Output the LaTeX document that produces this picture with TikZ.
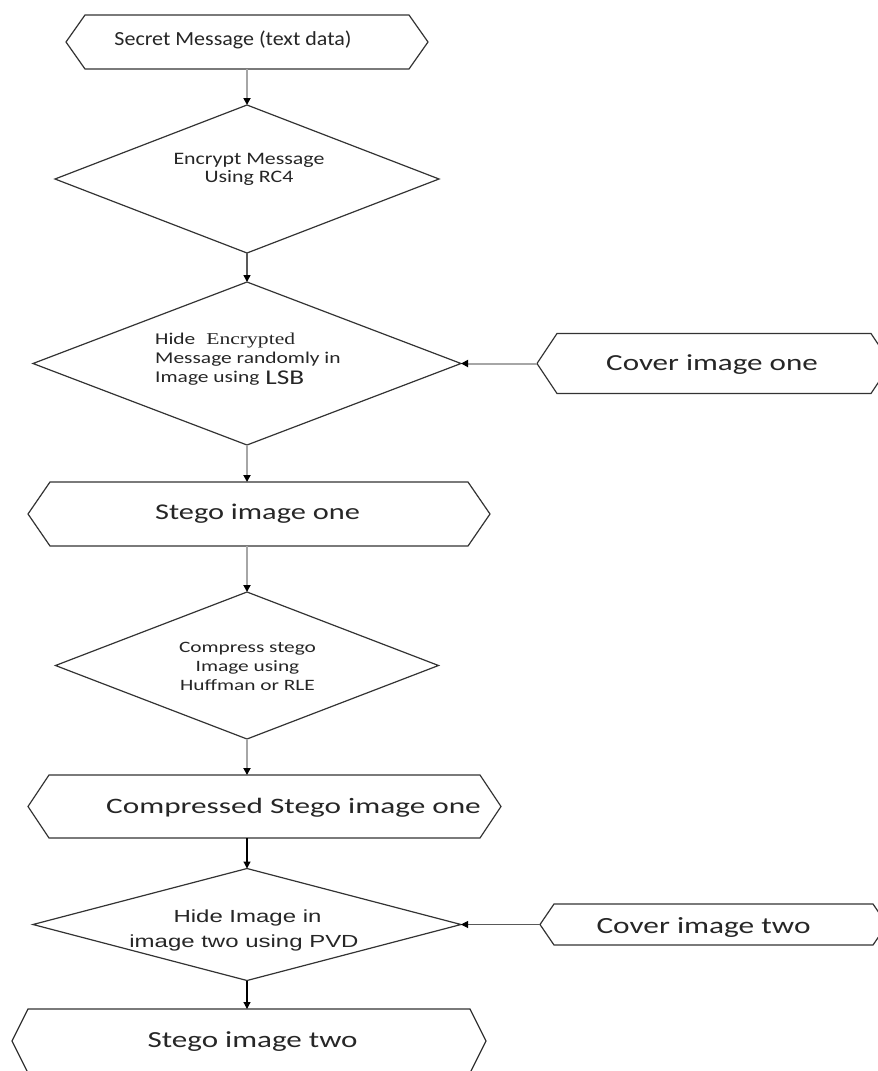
\documentclass[tikz,border=0pt]{standalone}
\usepackage{fontspec}
\setmainfont{Carlito}
% horizontally widened faces used for the labels
\newfontfamily\famA[FakeStretch=1.10]{Carlito}
\newfontfamily\famB[FakeStretch=1.25]{Carlito}
\newfontfamily\famC[FakeStretch=1.30]{Carlito}
\newfontfamily\famD[FakeStretch=1.35]{Carlito}
\newfontfamily\famE[FakeStretch=1.42]{Carlito}
\newfontfamily\serC[FakeStretch=1.30]{Liberation Serif}
\newfontfamily\sanD[FakeStretch=1.37]{Liberation Sans}
\usetikzlibrary{arrows.meta}

\definecolor{ink}{HTML}{262626}
\definecolor{edge}{HTML}{333333}
\definecolor{soft}{HTML}{A6A6A6}
\definecolor{mid}{HTML}{595959}

% outlines drawn on the anchors of a plain box node
\newcommand\hexout[2]{\draw[outline] (#1.west) -- ([xshift=#2pt]#1.north west) -- ([xshift=-#2pt]#1.north east) -- (#1.east) -- ([xshift=-#2pt]#1.south east) -- ([xshift=#2pt]#1.south west) -- cycle;}
\newcommand\diaout[1]{\draw[outline] (#1.north) -- (#1.east) -- (#1.south) -- (#1.west) -- cycle;}
\newcommand\fs[1]{\fontsize{#1}{#1}\selectfont}

\begin{document}
\begin{tikzpicture}[x=1pt,y=-1pt,
  box/.style 2 args={draw=none,inner sep=0pt,outer sep=0pt,minimum width=#1pt,minimum height=#2pt},
  outline/.style={draw=edge,line width=1.2pt,line join=miter},
  txt/.style={inner sep=0pt,anchor=base,text=ink},
  txtl/.style={inner sep=0pt,anchor=base west,text=ink},
  tipk/.style={-{Triangle[color=black,length=7pt,width=7pt]}},
  flowsoft/.style={tipk,draw=soft,line width=2pt},
  flowmid/.style={tipk,draw=mid,line width=1.6pt},
  flowdark/.style={tipk,draw=black,line width=1.2pt},
  flowthin/.style={tipk,draw=mid,line width=0.9pt}]
\useasboundingbox (0,0) rectangle (878,1071);
\clip (0,0) rectangle (878,1071);
\fill[white] (0,0) rectangle (878,1071);

% shape boxes
\node[box={362}{54}]  (secret)     at (247,42) {};
\node[box={384}{148}] (encrypt)    at (247,179) {};
\node[box={428}{163}] (hideone)    at (247,363.5) {};
\node[box={354}{60}]  (coverone)   at (714,363.5) {};
\node[box={462}{64}]  (stegoone)   at (259,514) {};
\node[box={383}{147}] (compress)   at (247,665.5) {};
\node[box={473}{63}]  (compressed) at (264.5,806.5) {};
\node[box={428}{112}] (hidetwo)    at (247,924.5) {};
\node[box={347}{41}]  (covertwo)   at (713.5,924.5) {};
\node[box={474}{64}]  (stegotwo)   at (249,1041) {};

% outlines
\hexout{secret}{19}
\diaout{encrypt}
\diaout{hideone}
\hexout{coverone}{20}
\hexout{stegoone}{22}
\diaout{compress}
\hexout{compressed}{21}
\diaout{hidetwo}
\hexout{covertwo}{14}
\hexout{stegotwo}{16}

% labels
\node[txt,font=\famA\fs{20}] (secret-t) at (233,45) {Secret Message (text data)};

\node[txt,font=\famB\fs{17.5}] (encrypt-a) at (249,164) {Encrypt Message};
\node[txt,font=\famB\fs{17.5}] (encrypt-b) at (249,182) {Using RC4};

\node[txtl,font=\famC\fs{16.5}] (hideone-a) at (155,344) {Hide\hspace{11pt}{\serC\fs{16.6}Encrypted}};
\node[txtl,font=\famC\fs{16.5}] (hideone-b) at (155,363) {Message randomly in};
\node[txtl,font=\famC\fs{16.5}] (hideone-c) at (155,382) {Image using\hspace{6pt}\raisebox{-2pt}{\fs{21}LSB}};

\node[txt,font=\famD\fs{23}] (coverone-t) at (712,370) {Cover image one};
\node[txt,font=\famD\fs{22.5}] (stegoone-t) at (257.5,519) {Stego image one};

\node[txt,font=\famD\fs{15.8}] (compress-a) at (247.5,652) {Compress stego};
\node[txt,font=\famD\fs{15.8}] (compress-b) at (247.5,671) {Image using};
\node[txt,font=\famD\fs{15.8}] (compress-c) at (247.5,690) {Huffman or RLE};

\node[txt,font=\famE\fs{22}] (compressed-t) at (293.5,813) {Compressed Stego image one};

\node[txt,font=\sanD\fs{17.5}] (hidetwo-a) at (247.5,922) {Hide Image in};
\node[txt,font=\sanD\fs{17.5}] (hidetwo-b) at (244,947) {image two using PVD};

\node[txt,font=\famD\fs{23.2}] (covertwo-t) at (703.5,933) {Cover image two};
\node[txt,font=\famD\fs{23}] (stegotwo-t) at (252.6,1047) {Stego image two};

% connectors
\draw[flowsoft] (secret.south) -- (encrypt.north);
\draw[flowmid]  (encrypt.south) -- (hideone.north);
\draw[flowsoft] (coverone.west) -- (hideone.east);
\draw[flowsoft] (hideone.south) -- (hideone.south |- stegoone.north);
\draw[flowsoft] (compress.north |- stegoone.south) -- (compress.north);
\draw[flowsoft] (compress.south) -- (compress.south |- compressed.north);
\draw[flowdark] (hidetwo.north |- compressed.south) -- (hidetwo.north);
\draw[flowthin] (covertwo.west) -- (hidetwo.east);
\draw[flowdark] (hidetwo.south) -- (hidetwo.south |- stegotwo.north);
\end{tikzpicture}
\end{document}
